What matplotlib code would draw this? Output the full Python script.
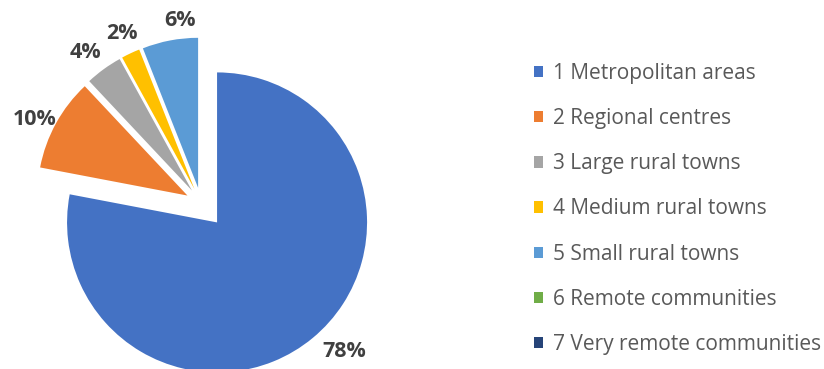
import matplotlib.pyplot as plt
from matplotlib.patches import Patch

# Share of population by remoteness category (percent)
categories = ['1 Metropolitan areas', '2 Regional centres', '3 Large rural towns',
              '4 Medium rural towns', '5 Small rural towns', '6 Remote communities',
              '7 Very remote communities']
shares = [78, 10, 4, 2, 6, 0, 0]
colors = ['#4472C4', '#ED7D31', '#A5A5A5', '#FFC000', '#5B9BD5', '#70AD47', '#264478']

plt.rcParams['font.family'] = ['Open Sans', 'DejaVu Sans']

W, H = 824, 369
fig = plt.figure(figsize=(W / 100, H / 100), dpi=100)

# pie centre at (201, 166) px from bottom-left, radius 150 px
cx, cy, r = 201, 166, 150
half = 2 * r
ax = fig.add_axes([(cx - half) / W, (cy - half) / H, 2 * half / W, 2 * half / H])

def pct(v):
    return f'{v:.0f}%' if v > 0.5 else ''

# the big slice is pulled out a bit further than the small ones
explode = [0.168 if s == max(shares) else 0.103 for s in shares]

wedges, texts, autotexts = ax.pie(
    shares, colors=colors, startangle=90, counterclock=False,
    explode=explode, autopct=pct, pctdistance=1.16,
    textprops=dict(fontsize=15.5, fontweight='bold', color='#404040'))

# small nudges (in px) so labels sit where Excel put them
nudges = {0: (16, 5), 1: (0, -8), 2: (-4, -3), 3: (2, -2), 4: (14, -4)}
for i, (dx, dy) in nudges.items():
    x, y = autotexts[i].get_position()
    autotexts[i].set_position((x + dx / r, y + dy / r))

ax.set_xlim(-2, 2)
ax.set_ylim(-2, 2)
ax.axis('off')

handles = [Patch(facecolor=c, edgecolor='none') for c in colors]
fig.legend(handles, categories, loc='upper left', bbox_to_anchor=(534 / W, 1 - 63 / H),
           frameon=False, fontsize=15, labelcolor='#595959', handlelength=0.45,
           handleheight=0.45, handletextpad=0.45, labelspacing=1.16, borderpad=0,
           borderaxespad=0)

plt.savefig('out.png', dpi=100)
